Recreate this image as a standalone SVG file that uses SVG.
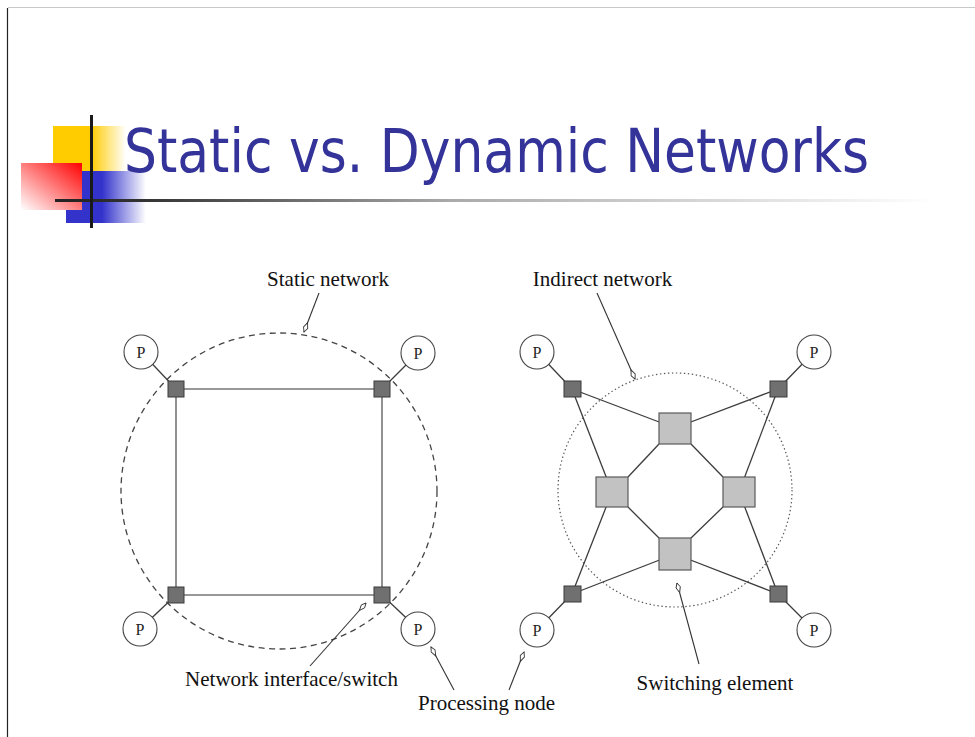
<svg xmlns="http://www.w3.org/2000/svg" width="975" height="737" viewBox="0 0 975 737">
  <defs>
    <linearGradient id="gYellow" x1="0" y1="0" x2="1" y2="0">
      <stop offset="0" stop-color="#ffcc00"/>
      <stop offset="0.52" stop-color="#ffcc00"/>
      <stop offset="1" stop-color="#ffffff"/>
    </linearGradient>
    <linearGradient id="gBlue" x1="0" y1="0" x2="1" y2="0">
      <stop offset="0" stop-color="#3333cc"/>
      <stop offset="0.45" stop-color="#3333cc"/>
      <stop offset="1" stop-color="#ffffff"/>
    </linearGradient>
    <linearGradient id="gRed" x1="1" y1="0" x2="0" y2="1">
      <stop offset="0" stop-color="#ff0000"/>
      <stop offset="1" stop-color="#ffffff"/>
    </linearGradient>
    <linearGradient id="gRule" x1="0" y1="0" x2="1" y2="0">
      <stop offset="0" stop-color="#222222"/>
      <stop offset="0.1" stop-color="#333333"/>
      <stop offset="0.45" stop-color="#aaaaaa"/>
      <stop offset="1" stop-color="#ffffff"/>
    </linearGradient>
    <marker id="tip" viewBox="-11 -3 12 6" refX="0" refY="0" markerWidth="12" markerHeight="6" markerUnits="userSpaceOnUse" orient="auto">
      <path d="M0,0 L-4.5,-2.2 L-10,0 L-4.5,2.2 Z" fill="#ffffff" stroke="#333333" stroke-width="0.9"/>
    </marker>
    <style>
      .title { font-family: "DejaVu Sans", "Liberation Sans", sans-serif; font-size: 60px; fill: #333399; }
      .lbl { font-family: "Liberation Serif", serif; font-size: 21px; fill: #111111; text-anchor: middle; }
      .ptxt { font-family: "Liberation Serif", serif; font-size: 16px; fill: #222222; text-anchor: middle; }
      .proc { fill: #ffffff; stroke: #444444; stroke-width: 1.1; }
      .sw { fill: #707070; stroke: #3a3a3a; stroke-width: 1; }
      .se { fill: #c2c2c2; stroke: #5a5a5a; stroke-width: 1.2; }
      .link { stroke: #3c3c3c; stroke-width: 1.3; fill: none; }
      .ring { stroke: #777777; stroke-width: 1.6; fill: none; }
      .ptr { stroke: #333333; stroke-width: 1.1; fill: none; marker-end: url(#tip); }
      .dash { stroke: #444444; stroke-width: 1.3; fill: none; stroke-dasharray: 6 4.5; }
      .dot { stroke: #555555; stroke-width: 1.2; fill: none; stroke-dasharray: 1.4 2.6; }
    </style>
  </defs>

  <rect x="0" y="0" width="975" height="737" fill="#ffffff"/>
  <!-- slide frame -->
  <line x1="8" y1="7.5" x2="975" y2="7.5" stroke="#c8c8c8" stroke-width="1"/>
  <line x1="7.5" y1="8" x2="7.5" y2="737" stroke="#222222" stroke-width="1.2"/>

  <!-- title ornament -->
  <g id="ornament">
    <rect x="53" y="126" width="73" height="46" fill="url(#gYellow)"/>
    <rect x="66" y="171" width="80" height="52" fill="url(#gBlue)"/>
    <rect x="21" y="163" width="61" height="47" fill="url(#gRed)"/>
    <rect x="55" y="199" width="880" height="3" fill="url(#gRule)"/>
    <rect x="90" y="115" width="3" height="113" fill="#1a1a1a"/>
  </g>
  <text class="title" x="124" y="172" textLength="745" lengthAdjust="spacingAndGlyphs">Static vs. Dynamic Networks</text>

  <!-- network boundaries -->
  <circle cx="279" cy="491" r="158" class="dash"/>
  <circle cx="675" cy="490" r="117" class="dot"/>

  <!-- connectors -->
  <g id="connectors">
    <!-- static network: switch ring -->
    <polygon points="176,389 382,389 382,595 176,595" class="ring"/>
    <!-- static network: processors to switches -->
    <line x1="141" y1="352" x2="176" y2="389" class="link"/>
    <line x1="418" y1="353" x2="382" y2="389" class="link"/>
    <line x1="140" y1="629" x2="176" y2="595" class="link"/>
    <line x1="418" y1="629" x2="382" y2="595" class="link"/>
    <!-- indirect network: processors to interfaces -->
    <line x1="537" y1="352" x2="572" y2="389" class="link"/>
    <line x1="814" y1="352" x2="778" y2="389" class="link"/>
    <line x1="537" y1="630" x2="572" y2="594" class="link"/>
    <line x1="814" y1="630" x2="778" y2="594" class="link"/>
    <!-- interfaces to switching elements -->
    <line x1="572" y1="389" x2="675" y2="428" class="link"/>
    <line x1="572" y1="389" x2="612" y2="492" class="link"/>
    <line x1="778" y1="389" x2="675" y2="428" class="link"/>
    <line x1="778" y1="389" x2="739" y2="492" class="link"/>
    <line x1="572" y1="594" x2="675" y2="554" class="link"/>
    <line x1="572" y1="594" x2="612" y2="492" class="link"/>
    <line x1="778" y1="594" x2="675" y2="554" class="link"/>
    <line x1="778" y1="594" x2="739" y2="492" class="link"/>
    <!-- switching element ring -->
    <line x1="659" y1="444" x2="628" y2="477" class="link"/>
    <line x1="691" y1="444" x2="723" y2="477" class="link"/>
    <line x1="628" y1="507" x2="659" y2="538" class="link"/>
    <line x1="723" y1="507" x2="691" y2="538" class="link"/>
    <!-- callout pointers -->
    <line x1="319" y1="293" x2="304" y2="332" class="ptr"/>
    <line x1="310" y1="666" x2="366" y2="603" class="ptr"/>
    <line x1="454" y1="690" x2="431" y2="647" class="ptr"/>
    <line x1="509" y1="690" x2="524" y2="652" class="ptr"/>
    <line x1="597" y1="293" x2="635" y2="379" class="ptr"/>
    <line x1="699" y1="664" x2="677" y2="583" class="ptr"/>
  </g>

  <!-- static network nodes -->
  <g id="s-p1"><circle cx="141" cy="352" r="17" class="proc"/><text class="ptxt" x="141" y="357.5">P</text></g>
  <g id="s-p2"><circle cx="418" cy="353" r="17" class="proc"/><text class="ptxt" x="418" y="358.5">P</text></g>
  <g id="s-p3"><circle cx="140" cy="629" r="17" class="proc"/><text class="ptxt" x="140" y="634.5">P</text></g>
  <g id="s-p4"><circle cx="418" cy="629" r="17" class="proc"/><text class="ptxt" x="418" y="634.5">P</text></g>
  <g id="s-sw1"><rect x="168" y="381" width="16" height="16" class="sw"/></g>
  <g id="s-sw2"><rect x="374" y="381" width="16" height="16" class="sw"/></g>
  <g id="s-sw3"><rect x="168" y="587" width="16" height="16" class="sw"/></g>
  <g id="s-sw4"><rect x="374" y="587" width="16" height="16" class="sw"/></g>

  <!-- indirect network nodes -->
  <g id="i-p1"><circle cx="537" cy="352" r="17" class="proc"/><text class="ptxt" x="537" y="357.5">P</text></g>
  <g id="i-p2"><circle cx="814" cy="352" r="17" class="proc"/><text class="ptxt" x="814" y="357.5">P</text></g>
  <g id="i-p3"><circle cx="537" cy="630" r="17" class="proc"/><text class="ptxt" x="537" y="635.5">P</text></g>
  <g id="i-p4"><circle cx="814" cy="630" r="17" class="proc"/><text class="ptxt" x="814" y="635.5">P</text></g>
  <g id="i-sw1"><rect x="564" y="381" width="17" height="16" class="sw"/></g>
  <g id="i-sw2"><rect x="770" y="381" width="17" height="16" class="sw"/></g>
  <g id="i-sw3"><rect x="564" y="586" width="17" height="16" class="sw"/></g>
  <g id="i-sw4"><rect x="770" y="586" width="17" height="16" class="sw"/></g>
  <g id="se-top"><rect x="659" y="413" width="32" height="31" class="se"/></g>
  <g id="se-left"><rect x="596" y="477" width="32" height="30" class="se"/></g>
  <g id="se-right"><rect x="723" y="477" width="32" height="30" class="se"/></g>
  <g id="se-bottom"><rect x="659" y="538" width="32" height="32" class="se"/></g>

  <!-- labels -->
  <text class="lbl" x="328" y="286">Static network</text>
  <text class="lbl" x="291.5" y="686">Network interface/switch</text>
  <text class="lbl" x="486.5" y="710">Processing node</text>
  <text class="lbl" x="602.5" y="286">Indirect network</text>
  <text class="lbl" x="715" y="690">Switching element</text>
</svg>
